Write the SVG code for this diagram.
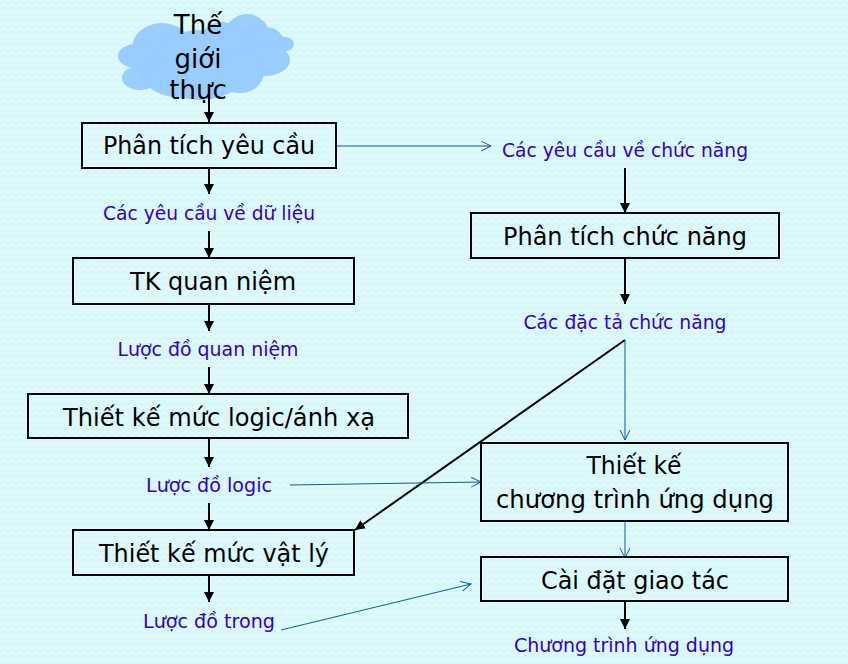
<svg xmlns="http://www.w3.org/2000/svg" width="848" height="664" viewBox="0 0 848 664">
<style>
.box{fill:none;stroke:#000;stroke-width:2}
.t{font-family:"DejaVu Sans","Noto Sans",sans-serif;font-size:25.5px;fill:#000;text-anchor:middle}
.c{font-size:26px}
.l{font-family:"DejaVu Sans","Noto Sans",sans-serif;font-size:19.5px;fill:#3300cc;text-anchor:middle}
.k{fill:none;stroke:#000;stroke-width:2}
.b{fill:none;stroke:#15599c;stroke-width:1}
</style>
<defs>
<marker id="ah" markerUnits="userSpaceOnUse" markerWidth="12" markerHeight="12" refX="10" refY="5" orient="auto"><path d="M0 0L10 5L0 10Z" fill="#000"/></marker>
<marker id="oh" markerUnits="userSpaceOnUse" markerWidth="12" markerHeight="12" refX="10" refY="5" orient="auto"><path d="M0 0L10 5L0 10" fill="none" stroke="#15599c"/></marker>
<pattern id="bg" width="8" height="6" patternUnits="userSpaceOnUse"><rect width="8" height="6" fill="#dcf9fc"/><path d="M0 4L4 1L8 4" fill="none" stroke="#d3f4f8" stroke-width="1"/></pattern>
</defs>
<rect width="848" height="664" fill="url(#bg)"/>
<g id="cloud"><g fill="#99ccff">
<ellipse cx="162" cy="48" rx="30" ry="25"/>
<ellipse cx="136" cy="56" rx="18" ry="12"/>
<ellipse cx="140" cy="78" rx="18" ry="12"/>
<ellipse cx="200" cy="65" rx="50" ry="35"/>
<ellipse cx="185" cy="78" rx="40" ry="20"/>
<ellipse cx="247" cy="40" rx="24" ry="26"/>
<ellipse cx="222" cy="42" rx="22" ry="20"/>
<ellipse cx="266" cy="48" rx="20" ry="21"/>
<ellipse cx="285" cy="44" rx="9" ry="7"/>
<ellipse cx="265" cy="60" rx="25" ry="16"/>
<ellipse cx="240" cy="72" rx="24" ry="21"/>
</g>
<text class="t c" x="198" y="34">Thế</text><text class="t c" x="198" y="68">giới</text><text class="t c" x="198" y="99">thực</text></g>
<g id="connectors">
<path class="k" marker-end="url(#ah)" d="M209 95V122"/>
<path class="k" marker-end="url(#ah)" d="M209 168V194"/>
<path class="k" marker-end="url(#ah)" d="M209 231V258"/>
<path class="k" marker-end="url(#ah)" d="M209 304V331"/>
<path class="k" marker-end="url(#ah)" d="M209 367V394"/>
<path class="k" marker-end="url(#ah)" d="M209 438V467"/>
<path class="k" marker-end="url(#ah)" d="M209 503V530"/>
<path class="k" marker-end="url(#ah)" d="M209 575V602"/>
<path class="k" marker-end="url(#ah)" d="M625 168V213"/>
<path class="k" marker-end="url(#ah)" d="M625 258V304"/>
<path class="k" marker-end="url(#ah)" d="M625 340L355 530"/>
<path class="k" marker-end="url(#ah)" d="M625 601V629"/>
<path class="b" marker-end="url(#oh)" d="M337 146H491"/>
<path class="b" marker-end="url(#oh)" d="M625 340V440"/>
<path class="b" marker-end="url(#oh)" d="M290 485L481 482"/>
<path class="b" marker-end="url(#oh)" d="M625 521V558"/>
<path class="b" marker-end="url(#oh)" d="M281 630L471 584"/>
</g>
<g id="n1"><rect class="box" x="82" y="123" width="254" height="45"/><text class="t" x="209" y="154" textLength="212" lengthAdjust="spacingAndGlyphs">Phân tích yêu cầu</text></g>
<g id="n2"><rect class="box" x="73" y="258" width="281" height="46"/><text class="t" x="213" y="290" textLength="166" lengthAdjust="spacingAndGlyphs">TK quan niệm</text></g>
<g id="n3"><rect class="box" x="28" y="394" width="380" height="44"/><text class="t" x="219" y="426" textLength="312" lengthAdjust="spacingAndGlyphs">Thiết kế mức logic/ánh xạ</text></g>
<g id="n4"><rect class="box" x="73" y="530" width="281" height="45"/><text class="t" x="214" y="562" textLength="230" lengthAdjust="spacingAndGlyphs">Thiết kế mức vật lý</text></g>
<g id="n5"><rect class="box" x="471" y="213" width="308" height="45"/><text class="t" x="625" y="245" textLength="244" lengthAdjust="spacingAndGlyphs">Phân tích chức năng</text></g>
<g id="n6"><rect class="box" x="481" y="443" width="307" height="78"/><text class="t" x="634" y="474" textLength="95" lengthAdjust="spacingAndGlyphs">Thiết kế</text><text class="t" x="635" y="508" textLength="278" lengthAdjust="spacingAndGlyphs">chương trình ứng dụng</text></g>
<g id="n7"><rect class="box" x="481" y="557" width="307" height="44"/><text class="t" x="635" y="589" textLength="188" lengthAdjust="spacingAndGlyphs">Cài đặt giao tác</text></g>
<g id="labels">
<text class="l" x="209" y="220" textLength="212" lengthAdjust="spacingAndGlyphs">Các yêu cầu về dữ liệu</text>
<text class="l" x="208" y="356" textLength="181" lengthAdjust="spacingAndGlyphs">Lược đồ quan niệm</text>
<text class="l" x="209" y="492" textLength="126" lengthAdjust="spacingAndGlyphs">Lược đồ logic</text>
<text class="l" x="209" y="628" textLength="132" lengthAdjust="spacingAndGlyphs">Lược đồ trong</text>
<text class="l" x="625" y="157" textLength="246" lengthAdjust="spacingAndGlyphs">Các yêu cầu về chức năng</text>
<text class="l" x="625" y="329" textLength="203" lengthAdjust="spacingAndGlyphs">Các đặc tả chức năng</text>
<text class="l" x="624" y="652" textLength="220" lengthAdjust="spacingAndGlyphs">Chương trình ứng dụng</text>
</g>
</svg>
